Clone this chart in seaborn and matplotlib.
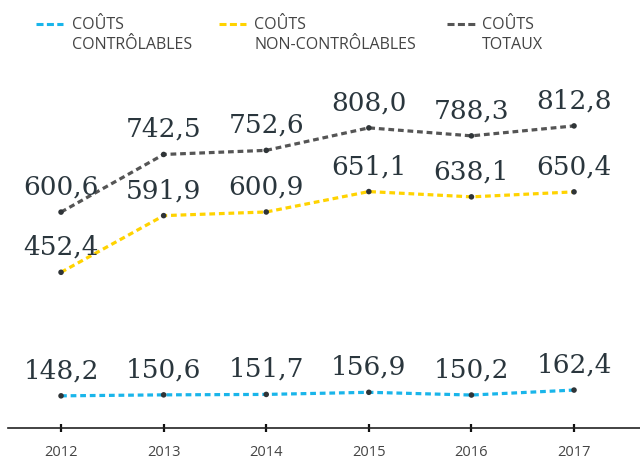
import matplotlib
matplotlib.use("Agg")
import matplotlib.pyplot as plt
from matplotlib.lines import Line2D
import seaborn as sns
import pandas as pd

years = [2012, 2013, 2014, 2015, 2016, 2017]
controlables = [148.2, 150.6, 151.7, 156.9, 150.2, 162.4]
non_controlables = [452.4, 591.9, 600.9, 651.1, 638.1, 650.4]
totaux = [600.6, 742.5, 752.6, 808.0, 788.3, 812.8]

series_names = ["COÛTS\nCONTRÔLABLES", "COÛTS\nNON-CONTRÔLABLES", "COÛTS\nTOTAUX"]
series_values = [controlables, non_controlables, totaux]
series_colors = ["#19b5ea", "#ffd300", "#555555"]

df = pd.DataFrame({
    "annee": years * 3,
    "valeur": controlables + non_controlables + totaux,
    "serie": sum([[n] * len(years) for n in series_names], []),
})

sns.set_theme(style="white")
plt.rcParams["font.family"] = ["Open Sans", "DejaVu Sans"]

fig = plt.figure(figsize=(6.4, 4.59), dpi=100)
ax = fig.add_axes([8 / 640, 31 / 459, 632 / 640, 370 / 459])

palette = dict(zip(series_names, series_colors))
sns.lineplot(data=df, x="annee", y="valeur", hue="serie", palette=palette,
             linewidth=2.3, ax=ax, legend=False)
for line in ax.get_lines():
    line.set_dashes((1.8, 1.2))
sns.scatterplot(data=df, x="annee", y="valeur", color="#2f3437", s=16,
                edgecolor="none", zorder=5, ax=ax, legend=False)

# value labels above each point
for vals in series_values:
    for x, v in zip(years, vals):
        ax.annotate(f"{v:.1f}".replace(".", ","), (x, v), xytext=(0, 9),
                    textcoords="offset points", ha="center", va="bottom",
                    fontsize=19, color="#2a363d", family="DejaVu Serif")

ax.set_xlim(2011.483, 2017.643)
ax.set_ylim(69, 980)
ax.set_xticks(years)
ax.set_xticklabels([str(y) for y in years], fontsize=10.5, color="#444444")
ax.set_yticks([])
ax.set_xlabel("")
ax.set_ylabel("")
for s in ["top", "right", "left"]:
    ax.spines[s].set_visible(False)
ax.spines["bottom"].set_color("#222222")
ax.spines["bottom"].set_linewidth(1.2)
ax.tick_params(axis="x", direction="inout", length=6, width=1.6,
               color="#111111", pad=9, bottom=True)

# legend across the top: dashed swatch beside a two-line caption
legend_x = [(36, 63, 72), (219, 246, 254), (447, 475, 482)]
for (x0, x1, xt), name, col in zip(legend_x, series_names, series_colors):
    fig.add_artist(Line2D([x0 / 640, x1 / 640], [1 - 24 / 459, 1 - 24 / 459],
                          color=col, linewidth=2.2, dashes=(2.3, 1.1),
                          transform=fig.transFigure))
    fig.text(xt / 640, 1 - 17 / 459, name, ha="left", va="top",
             fontsize=11.5, color="#444444", linespacing=1.32)

fig.savefig("out.png", dpi=100)
